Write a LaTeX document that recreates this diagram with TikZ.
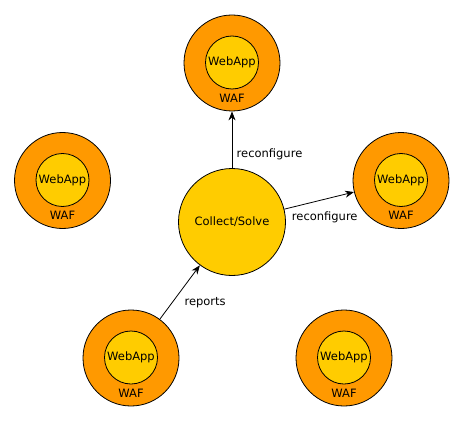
\documentclass[tikz,border=0pt]{standalone}
\usepackage{fontspec}
\setmainfont{DejaVu Sans}
\usetikzlibrary{arrows.meta}
\usetikzlibrary{positioning}
\definecolor{wafOrange}{HTML}{FF9900}
\definecolor{appYellow}{HTML}{FFCC00}
\tikzset{x=1pt, y=-1pt,
every node/.style={font=\fontsize{11.5}{14}\selectfont},
waf/.style={ % outer firewall ring
circle, draw, line width=0.8pt, fill=wafOrange,
minimum size=96pt, inner sep=0pt},
webapp/.style={ % protected application
circle, draw, line width=0.8pt, fill=appYellow,
minimum size=53pt, inner sep=0pt},
solver/.style={circle, draw, line width=0.8pt, fill=appYellow,
minimum size=107pt, inner sep=0pt},
every edge/.style={ % arrows between the circles
draw, -{Stealth[length=9pt,width=7pt]}, line width=0.8pt}}

\begin{document}
\begin{tikzpicture}
\useasboundingbox (0,0) rectangle (465,422);
\node[solver] (solve) at (232,222) {Collect/Solve};
\node[waf] (waf1) at (232,63) {};
\node[webapp] (app1) at (232,62.5) {WebApp};
\node (lab1) at (232,98) {WAF};
\node[waf] (waf2) at (62.5,180.5) {};
\node[webapp] (app2) at (62.5,180) {WebApp};
\node (lab2) at (62.5,215.5) {WAF};
\node[waf] (waf3) at (401,180.5) {};
\node[webapp] (app3) at (401,180) {WebApp};
\node (lab3) at (401,215.5) {WAF};
\node[waf] (waf4) at (131,358) {};
\node[webapp] (app4) at (131,357.5) {WebApp};
\node (lab4) at (131,393) {WAF};
\node[waf] (waf5) at (344,358) {};
\node[webapp] (app5) at (344,357.5) {WebApp};
\node (lab5) at (344,393) {WAF};
\draw (solve) edge node[pos=0.24, right=1pt]{reconfigure} (waf1);
\draw (solve) edge node[pos=0.58, below=9pt]{reconfigure} (waf3);
\draw (waf4) edge node[pos=0.3, right=9pt]{reports} (solve);
\end{tikzpicture}
\end{document}
